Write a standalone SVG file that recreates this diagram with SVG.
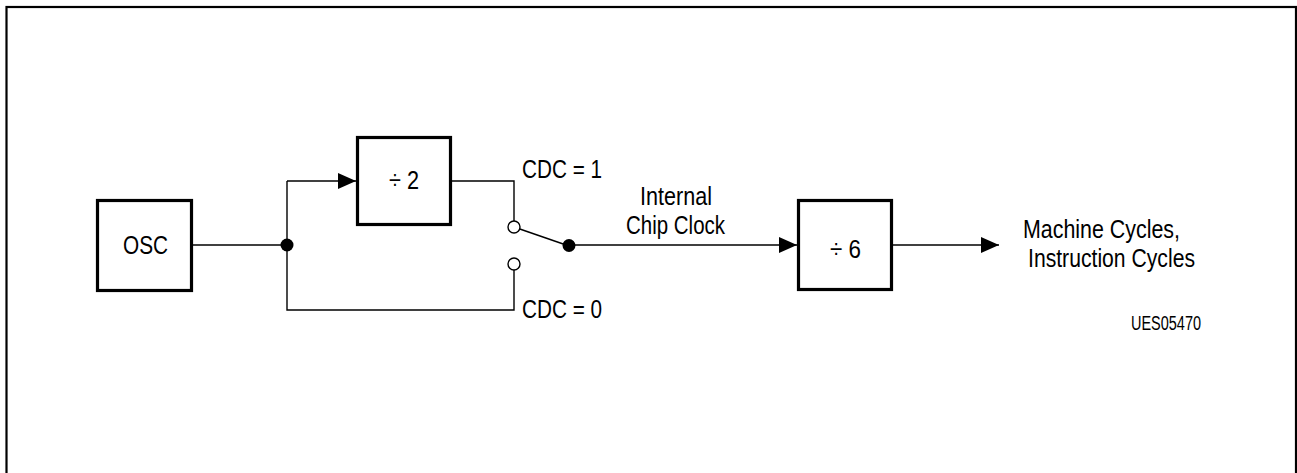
<svg xmlns="http://www.w3.org/2000/svg" width="1297" height="473" viewBox="0 0 1297 473">
<style>
.box{fill:#fff;stroke:#000;stroke-width:3.2}
.w{fill:none;stroke:#000;stroke-width:1.4}
.t{font-family:"Liberation Sans",Arial,sans-serif;font-size:26px;fill:#000}
.s{font-family:"Liberation Sans",Arial,sans-serif;font-size:20px;fill:#000}
</style>
<defs>
<marker id="arr" viewBox="0 0 18 16" refX="18" refY="8" markerWidth="18" markerHeight="16" markerUnits="userSpaceOnUse" orient="auto">
<path d="M0,0 L18,8 L0,16 Z" fill="#000"/>
</marker>
</defs>
<rect x="6.5" y="7" width="1289.5" height="490" fill="#fff" stroke="#000" stroke-width="2.2"/>
<g id="connectors">
<path class="w" d="M193,245 H287"/>
<path class="w" d="M287,181 V310 H514 V270"/>
<path class="w" d="M287,181 H356" marker-end="url(#arr)"/>
<path class="w" d="M452,181 H514 V221"/>
<path class="w" d="M514,227 L569,246" stroke-width="3.5"/>
<path class="w" d="M569,245 H797" marker-end="url(#arr)"/>
<path class="w" d="M892,245 H999" marker-end="url(#arr)"/>
<circle cx="287" cy="245" r="6.5" fill="#000"/>
<circle cx="569" cy="245.5" r="6.5" fill="#000"/>
<circle cx="514" cy="227" r="6" fill="#fff" stroke="#000" stroke-width="1.4"/>
<circle cx="514" cy="264" r="6" fill="#fff" stroke="#000" stroke-width="1.4"/>
</g>
<g id="osc">
<rect class="box" x="97.5" y="200.5" width="94" height="90"/>
<text class="t" x="123" y="254" textLength="45" lengthAdjust="spacingAndGlyphs">OSC</text>
</g>
<g id="div2">
<rect class="box" x="357.5" y="137.5" width="93" height="87"/>
<text class="t" x="389" y="189" textLength="30" lengthAdjust="spacingAndGlyphs">÷ 2</text>
</g>
<g id="div6">
<rect class="box" x="798.5" y="200.5" width="93" height="89"/>
<text class="t" x="830" y="258" textLength="31" lengthAdjust="spacingAndGlyphs">÷ 6</text>
</g>
<g id="labels">
<text class="t" x="522" y="178" textLength="80" lengthAdjust="spacingAndGlyphs">CDC = 1</text>
<text class="t" x="522" y="318" textLength="80" lengthAdjust="spacingAndGlyphs">CDC = 0</text>
<text class="t" x="640" y="205" textLength="72" lengthAdjust="spacingAndGlyphs">Internal</text>
<text class="t" x="626" y="234" textLength="99" lengthAdjust="spacingAndGlyphs">Chip Clock</text>
<text class="t" x="1023" y="238" textLength="157" lengthAdjust="spacingAndGlyphs">Machine Cycles,</text>
<text class="t" x="1028" y="267" textLength="167" lengthAdjust="spacingAndGlyphs">Instruction Cycles</text>
<text class="s" x="1131" y="330" textLength="70" lengthAdjust="spacingAndGlyphs">UES05470</text>
</g>
</svg>
